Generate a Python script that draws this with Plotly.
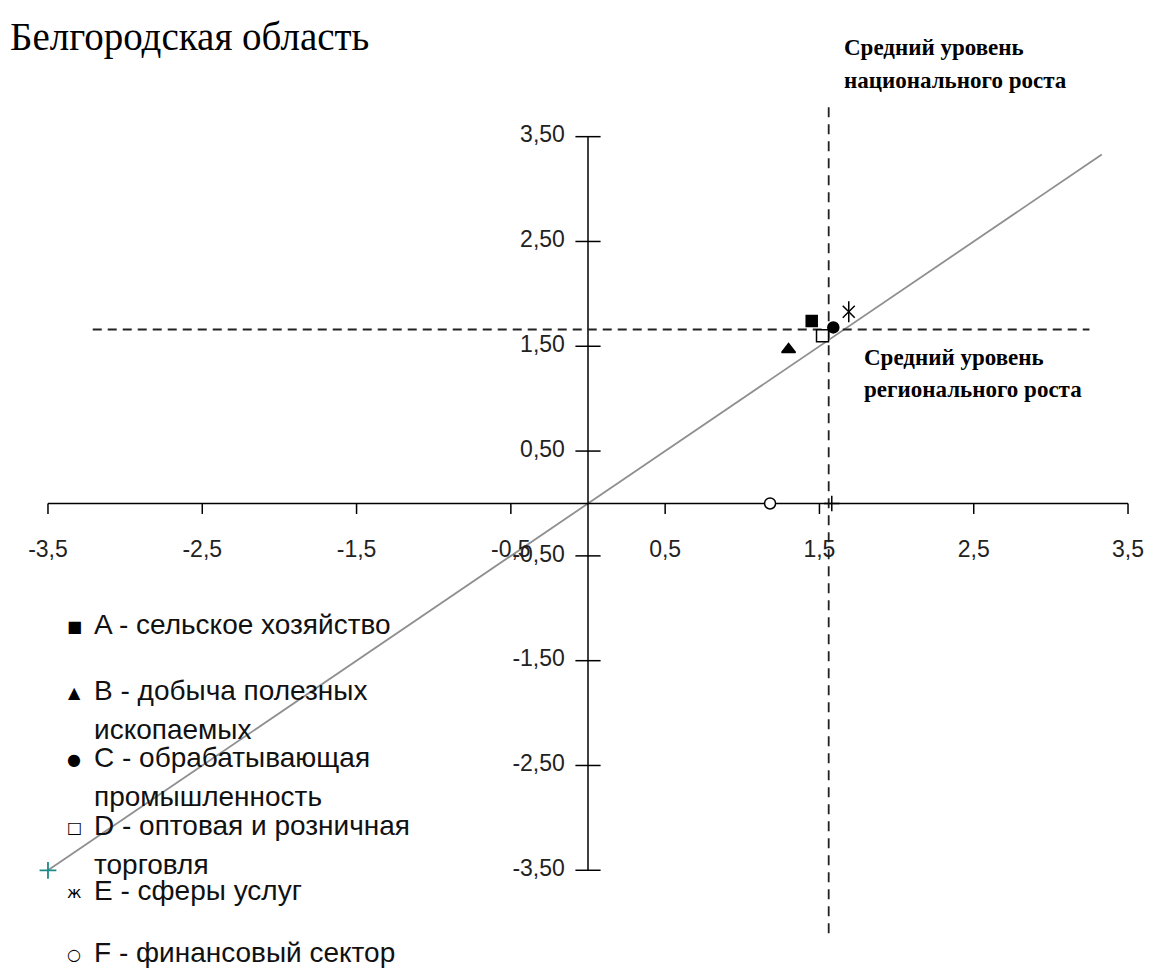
import plotly.graph_objects as go

W, H = 1149, 971

# sectors: x, y growth indices
sector_x = [1.45, 1.30, 1.59, 1.52, 1.69, 1.18]
sector_y = [1.74, 1.47, 1.68, 1.60, 1.83, 0.00]
sector_names = ["A", "B", "C", "D", "E", "F"]

legend_glyphs = ["■", "▲", "●", "□", "ж", "○"]
legend_lines = [
    ["A - сельское хозяйство"],
    ["B - добыча полезных", "ископаемых"],
    ["C - обрабатывающая", "промышленность"],
    ["D - оптовая и розничная", "торговля"],
    ["E - сферы услуг"],
    ["F - финансовый сектор"],
]

national_avg = 1.56
regional_avg = 1.66
national_span = [-4.10, 3.82]
regional_span = [-3.21, 3.25]
diag_x = [-3.5, 3.33]

x_ticks = [-3.5, -2.5, -1.5, -0.5, 0.5, 1.5, 2.5, 3.5]
x_tick_text = ["-3,5", "-2,5", "-1,5", "-0,5", "0,5", "1,5", "2,5", "3,5"]
y_ticks = [3.5, 2.5, 1.5, 0.5, -0.5, -1.5, -2.5, -3.5]
y_tick_text = ["3,50", "2,50", "1,50", "0,50", "-0,50", "-1,50", "-2,50", "-3,50"]

SANS = "Liberation Sans, Arial, sans-serif"
SERIF = "Liberation Serif, Times New Roman, serif"

fig = go.Figure()

# diagonal y = x
fig.add_trace(go.Scatter(x=diag_x, y=diag_x, mode="lines",
                         line=dict(color="#8f8f8f", width=1.8), hoverinfo="skip"))

# axes drawn at zero
fig.add_trace(go.Scatter(x=[x_ticks[0], x_ticks[-1]], y=[0, 0], mode="lines",
                         line=dict(color="black", width=1.5), hoverinfo="skip"))
fig.add_trace(go.Scatter(x=[0, 0], y=[y_ticks[-1], y_ticks[0]], mode="lines",
                         line=dict(color="black", width=1.5), hoverinfo="skip"))

# x tick marks (below axis)
tx, ty = [], []
for v in x_ticks:
    tx += [v, v, None]
    ty += [0, -0.1, None]
fig.add_trace(go.Scatter(x=tx, y=ty, mode="lines",
                         line=dict(color="black", width=1.5), hoverinfo="skip"))
# y tick marks (crossing)
fig.add_trace(go.Scatter(x=[0] * len(y_ticks), y=y_ticks, mode="markers",
                         marker=dict(symbol="line-ew", size=18, color="black",
                                     line=dict(color="black", width=1.5)),
                         hoverinfo="skip"))

# tick labels
fig.add_trace(go.Scatter(x=x_ticks, y=[-0.46] * len(x_ticks), mode="text",
                         text=x_tick_text, textposition="middle center",
                         textfont=dict(family=SANS, size=23, color="#222"),
                         hoverinfo="skip"))
fig.add_trace(go.Scatter(x=[-0.15] * len(y_ticks), y=y_ticks, mode="text",
                         text=y_tick_text, textposition="middle left",
                         textfont=dict(family=SANS, size=23, color="#222"),
                         hoverinfo="skip"))

# average levels
fig.add_trace(go.Scatter(x=regional_span, y=[regional_avg] * 2, mode="lines",
                         line=dict(color="#222", width=1.8, dash="9px,6px"),
                         hoverinfo="skip"))
fig.add_trace(go.Scatter(x=[national_avg] * 2, y=national_span, mode="lines",
                         line=dict(color="#222", width=1.8, dash="10px,7px"),
                         hoverinfo="skip"))
fig.add_trace(go.Scatter(x=[national_avg + 0.02], y=[0], mode="markers",
                         marker=dict(symbol="cross-thin", size=11, color="black",
                                     line=dict(color="black", width=1.5)),
                         hoverinfo="skip"))

# start of diagonal
fig.add_trace(go.Scatter(x=[diag_x[0]], y=[diag_x[0]], mode="markers",
                         marker=dict(symbol="cross-thin", size=12, color="#1d8a8a",
                                     line=dict(color="#1d8a8a", width=1.8)),
                         hoverinfo="skip"))

# sector points
symbols = ["square", "triangle-up", "circle", "square", "x-thin", "circle"]
sizes = [11, 12, 11, 12, 12, 11]
fills = ["black", "black", "black", "white", "black", "white"]
for i in range(len(sector_x)):
    fig.add_trace(go.Scatter(
        x=[sector_x[i]], y=[sector_y[i]], mode="markers", name=sector_names[i],
        marker=dict(symbol=symbols[i], size=sizes[i], color=fills[i],
                    line=dict(color="black", width=1.5)),
    ))
# vertical stroke of the E asterisk
fig.add_trace(go.Scatter(x=[sector_x[4]], y=[sector_y[4]], mode="markers",
                         marker=dict(symbol="line-ns", size=15, color="black",
                                     line=dict(color="black", width=1.5)),
                         hoverinfo="skip"))


def ann(text, px, py, size, family, color="black", xanchor="left"):
    fig.add_annotation(text=text, x=px / W, y=1 - py / H, xref="paper", yref="paper",
                       xanchor=xanchor, yanchor="middle", showarrow=False,
                       font=dict(family=family, size=size, color=color))


ann("Белгородская область", 8, 37, 39, SERIF)
ann("<b>Средний уровень</b>", 842, 47, 23, SERIF)
ann("<b>национального роста</b>", 842, 80, 23, SERIF)
ann("<b>Средний уровень</b>", 862, 357, 23, SERIF)
ann("<b>регионального роста</b>", 862, 390, 23, SERIF)

# legend
legend_y = [624, 690, 757, 825, 890, 952]
for glyph, lines, ly in zip(legend_glyphs, legend_lines, legend_y):
    ann(glyph, 74, ly + 2, 16, "DejaVu Sans", xanchor="center")
    for k, line in enumerate(lines):
        ann(line, 92, ly + k * 39, 28, SANS, color="#111")

fig.update_layout(
    width=W, height=H,
    margin=dict(l=0, r=0, t=0, b=0),
    paper_bgcolor="white", plot_bgcolor="white",
    showlegend=False,
    xaxis=dict(range=[-3.811, 3.636], visible=False),
    yaxis=dict(range=[-4.461, 4.804], visible=False),
)

fig.write_html("out.html", config={"displayModeBar": False},
               post_script="document.body.style.margin='0';")
